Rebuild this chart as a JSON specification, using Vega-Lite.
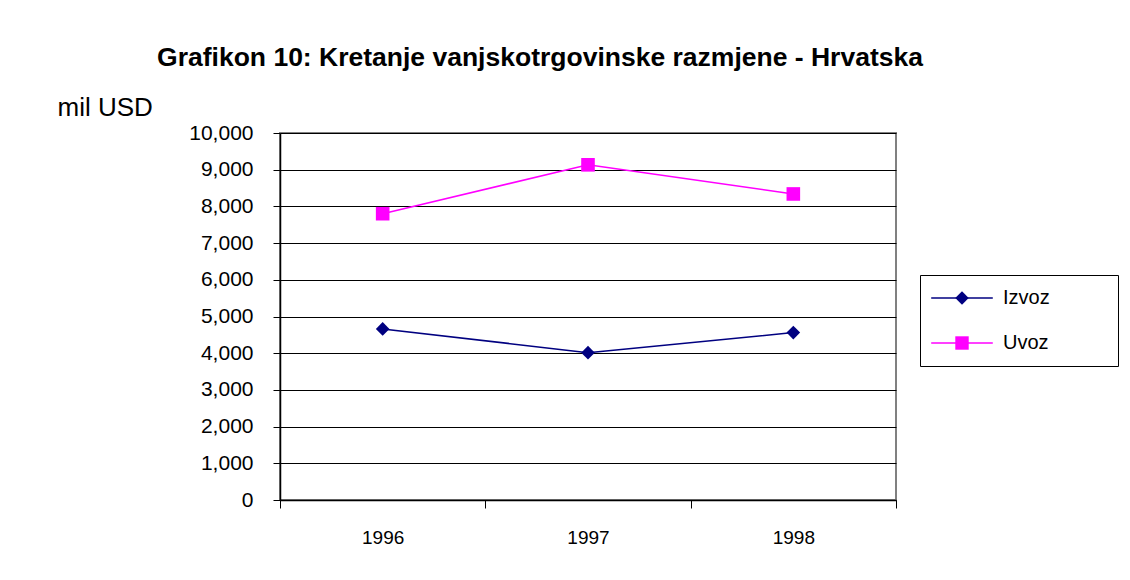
{
  "$schema": "https://vega.github.io/schema/vega-lite/v6.json",
  "width": 616,
  "height": 367,
  "autosize": {"type": "none"},
  "padding": {"left": 280, "top": 133, "right": 234, "bottom": 80},
  "background": "white",
  "title": {
    "text": "Grafikon 10: Kretanje vanjskotrgovinske razmjene - Hrvatska",
    "font": "Liberation Sans",
    "fontSize": 26.5,
    "fontWeight": "bold",
    "color": "black",
    "anchor": "middle",
    "frame": "group",
    "dx": -48,
    "baseline": "alphabetic",
    "offset": 2
  },
  "config": {
    "font": "Liberation Sans",
    "view": {"stroke": "#808080", "strokeWidth": 2},
    "axis": {"labelFont": "Liberation Sans", "labelColor": "black", "titleColor": "black", "domainColor": "black", "tickColor": "black"},
    "legend": {"labelFont": "Liberation Sans", "labelColor": "black"}
  },
  "data": {
    "values": [
      {"year": 1996, "series": "Izvoz", "value": 4662},
      {"year": 1997, "series": "Izvoz", "value": 4015},
      {"year": 1998, "series": "Izvoz", "value": 4562},
      {"year": 1996, "series": "Uvoz", "value": 7801},
      {"year": 1997, "series": "Uvoz", "value": 9133},
      {"year": 1998, "series": "Uvoz", "value": 8339}
    ]
  },
  "encoding": {
    "x": {
      "field": "year",
      "type": "quantitative",
      "scale": {"domain": [1995.5, 1998.5], "nice": false, "zero": false},
      "axis": {
        "title": null,
        "values": [1995.5, 1996, 1996.5, 1997, 1997.5, 1998, 1998.5],
        "labelExpr": "floor(datum.value) == datum.value ? toString(datum.value) : ''",
        "labelOverlap": false,
        "labelFlush": false,
        "tickColor": {"condition": {"test": "floor(datum.value) == datum.value", "value": "transparent"}, "value": "black"},
        "tickSize": 8,
        "labelFontSize": 19,
        "labelPadding": 20,
        "grid": false,
        "domainWidth": 1.5
      }
    },
    "y": {
      "field": "value",
      "type": "quantitative",
      "scale": {"domain": [0, 10000], "nice": false},
      "axis": {
        "title": "mil USD",
        "titleAngle": 0,
        "titleX": -223,
        "titleY": -18,
        "titleAlign": "left",
        "titleBaseline": "alphabetic",
        "titleFontWeight": "normal",
        "titleFontSize": 26,
        "titleFont": "Liberation Sans",
        "values": [0, 1000, 2000, 3000, 4000, 5000, 6000, 7000, 8000, 9000, 10000],
        "format": ",.0f",
        "labelOverlap": false,
        "labelFontSize": 21,
        "labelPadding": 20,
        "tickSize": 7,
        "grid": true,
        "gridColor": "black",
        "gridWidth": 1,
        "gridOpacity": 1,
        "domainWidth": 1.5
      }
    }
  },
  "layer": [
    {
      "mark": {"type": "line", "strokeWidth": 1.5},
      "encoding": {
        "color": {
          "field": "series",
          "type": "nominal",
          "scale": {"domain": ["Izvoz", "Uvoz"], "range": ["#000080", "#FF00FF"]},
          "legend": {
            "title": "MMM",
            "titleOrient": "right",
            "titleOpacity": 0,
            "titleFontSize": 20,
            "titlePadding": 5,
            "orient": "none",
            "legendX": 640,
            "legendY": 142,
            "symbolType": "M-4.4,0H4.4",
            "symbolSize": 196,
            "symbolStrokeWidth": 1.5,
            "symbolOffset": 19,
            "labelFontSize": 20,
            "labelOffset": 31,
            "strokeColor": "black",
            "padding": 13,
            "rowPadding": 25
          }
        }
      }
    },
    {
      "mark": {"type": "point", "filled": true, "opacity": 1},
      "encoding": {
        "color": {
          "field": "series",
          "type": "nominal",
          "legend": {
            "title": null,
            "orient": "none",
            "legendX": 640,
            "legendY": 142,
            "symbolSize": 180,
            "symbolOpacity": 1,
            "symbolOffset": 19,
            "labelFontSize": 20,
            "labelOffset": 31,
            "labelOpacity": 0,
            "padding": 13,
            "rowPadding": 25
          }
        },
        "shape": {
          "field": "series",
          "type": "nominal",
          "scale": {"domain": ["Izvoz", "Uvoz"], "range": ["diamond", "square"]},
          "legend": {
            "title": null,
            "orient": "none",
            "legendX": 640,
            "legendY": 142,
            "symbolSize": 180,
            "symbolOpacity": 1,
            "symbolOffset": 19,
            "labelFontSize": 20,
            "labelOffset": 31,
            "labelOpacity": 0,
            "padding": 13,
            "rowPadding": 25
          }
        },
        "size": {"value": 185}
      }
    }
  ],
  "resolve": {"legend": {"color": "independent", "shape": "independent"}}
}
